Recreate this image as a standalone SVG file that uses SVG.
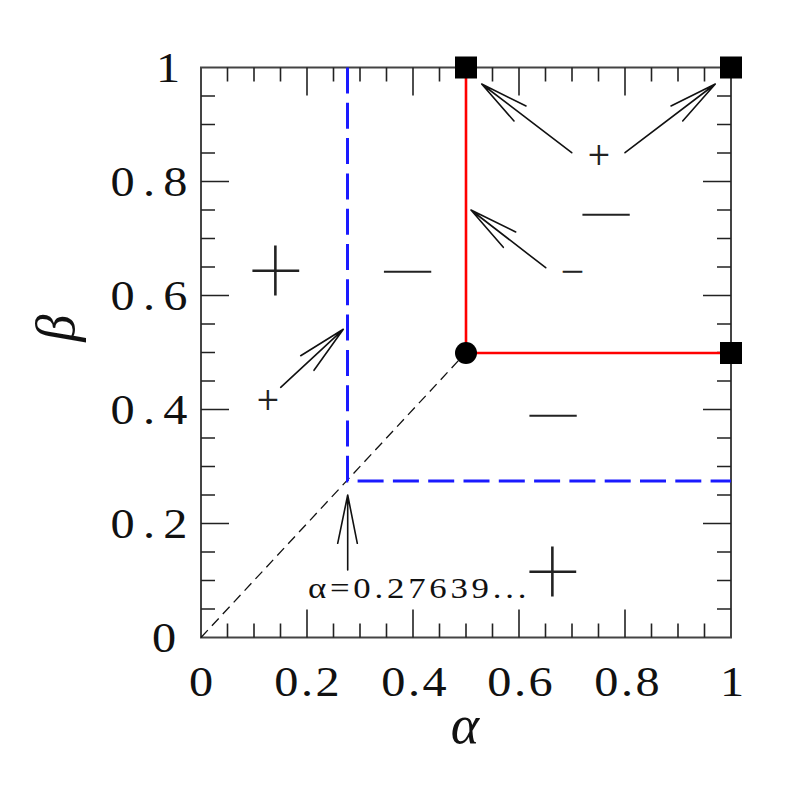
<svg xmlns="http://www.w3.org/2000/svg" width="797" height="797" viewBox="0 0 797 797">
<style>
.frame{fill:none;stroke:#444;stroke-width:2}
.tick{fill:none;stroke:#222;stroke-width:1.6}
.lab{font-family:"Liberation Serif",serif;font-size:42px;fill:#111;text-anchor:middle}
.sym{font-family:Roboto,"Liberation Sans",sans-serif;font-weight:100;fill:#222;text-anchor:middle}
.sm{font-family:Roboto,"Liberation Sans",sans-serif;font-weight:300;font-size:38px;fill:#222;text-anchor:middle}
.mn{font-family:Roboto,"Liberation Sans",sans-serif;font-weight:300;font-size:40px;fill:#222;text-anchor:middle}
.arr{fill:none;stroke:#111;stroke-width:1.6;stroke-linecap:round}
</style>
<rect width="797" height="797" fill="#fff"/>
<g id="axes">
<rect class="frame" x="201" y="67.5" width="530" height="570"/>
<path class="tick" d="M227.5 637.5v-14M254 637.5v-14M280.5 637.5v-14M333.5 637.5v-14M360 637.5v-14M386.5 637.5v-14M439.5 637.5v-14M466 637.5v-14M492.5 637.5v-14M545.5 637.5v-14M572 637.5v-14M598.5 637.5v-14M651.5 637.5v-14M678 637.5v-14M704.5 637.5v-14
M227.5 67.5v14M254 67.5v14M280.5 67.5v14M333.5 67.5v14M360 67.5v14M386.5 67.5v14M439.5 67.5v14M466 67.5v14M492.5 67.5v14M545.5 67.5v14M572 67.5v14M598.5 67.5v14M651.5 67.5v14M678 67.5v14M704.5 67.5v14
M307 637.5v-28M413 637.5v-28M519 637.5v-28M625 637.5v-28M307 67.5v28M413 67.5v28M519 67.5v28M625 67.5v28
M201 609h14M201 580.5h14M201 552h14M201 495h14M201 466.5h14M201 438h14M201 381h14M201 352.5h14M201 324h14M201 267h14M201 238.5h14M201 210h14M201 153h14M201 124.5h14M201 96h14
M731 609h-14M731 580.5h-14M731 552h-14M731 495h-14M731 466.5h-14M731 438h-14M731 381h-14M731 352.5h-14M731 324h-14M731 267h-14M731 238.5h-14M731 210h-14M731 153h-14M731 124.5h-14M731 96h-14
M201 523.5h28M201 409.5h28M201 295.5h28M201 181.5h28M731 523.5h-28M731 409.5h-28M731 295.5h-28M731 181.5h-28"/>
<text class="lab" transform="translate(201 696) scale(1.15 1)">0</text>
<text class="lab" transform="translate(307 696) scale(1.15 1)" textLength="57" lengthAdjust="spacing">0.2</text>
<text class="lab" transform="translate(414 696) scale(1.15 1)" textLength="57" lengthAdjust="spacing">0.4</text>
<text class="lab" transform="translate(520 696) scale(1.15 1)" textLength="57" lengthAdjust="spacing">0.6</text>
<text class="lab" transform="translate(627 696) scale(1.15 1)" textLength="57" lengthAdjust="spacing">0.8</text>
<text class="lab" transform="translate(732 696) scale(1.15 1)">1</text>
<text class="lab" transform="translate(168 81.5) scale(1.15 1)">1</text>
<text class="lab" transform="translate(149 196) scale(1.15 1)" textLength="67" lengthAdjust="spacing">0.8</text>
<text class="lab" transform="translate(149 310) scale(1.15 1)" textLength="67" lengthAdjust="spacing">0.6</text>
<text class="lab" transform="translate(149 424) scale(1.15 1)" textLength="67" lengthAdjust="spacing">0.4</text>
<text class="lab" transform="translate(149 538) scale(1.15 1)" textLength="67" lengthAdjust="spacing">0.2</text>
<text class="lab" transform="translate(164 652) scale(1.15 1)">0</text>
<text x="465" y="743" text-anchor="middle" style="font-family:'Liberation Serif',serif;font-style:italic;font-size:54px;fill:#111">α</text>
<text transform="translate(74 328) rotate(-90)" text-anchor="middle" style="font-family:'Liberation Serif',serif;font-style:italic;font-size:54px;fill:#111">β</text>
</g>
<g id="connectors">
<path id="diag" d="M201 637.5L466 352.5" fill="none" stroke="#111" stroke-width="1.3" stroke-dasharray="10 6"/>
<path id="blue" d="M347.5 67.5V481H731" fill="none" stroke="#1a1aff" stroke-width="3" stroke-dasharray="26 9.3"/>
<path id="red" d="M466 67.5V353H731" fill="none" stroke="#ff0000" stroke-width="2.6"/>
<path class="arr" d="M571.7 152.7L481.7 84M526 106L481.7 84L514 121"/>
<path class="arr" d="M625 152.7L715.3 84M671 106L715.3 84L682.7 121"/>
<path class="arr" d="M545.7 267.7L471 210M515.7 232L471 210L503.3 247.3"/>
<path class="arr" d="M280.7 387.3L343.3 329.3M300.7 355.7L343.3 329.3L314 370.3"/>
<path class="arr" d="M347.7 570V495M337.7 543.3L347.7 495L357.3 543.3"/>
</g>
<g id="points">
<rect x="455" y="56.5" width="22" height="22" fill="#000"/>
<rect x="720" y="56.5" width="22" height="22" fill="#000"/>
<rect x="720" y="342" width="22" height="22" fill="#000"/>
<circle cx="466" cy="353" r="11" fill="#000"/>
</g>
<g id="labels">
<text class="sym" x="276" y="303" style="font-size:96px">+</text>
<text class="sym" x="553" y="604" style="font-size:96px">+</text>
<text class="sm" x="599" y="167.5">+</text>
<text class="sm" x="268" y="413">+</text>
<text class="mn" transform="translate(408 271.7) scale(2.9 1)" x="0" y="14.6">−</text>
<text class="mn" transform="translate(606.7 214.5) scale(2.9 1)" x="0" y="14.6">−</text>
<text class="mn" transform="translate(553.5 415) scale(2.9 1)" x="0" y="14.6">−</text>
<text class="mn" transform="translate(572.7 271.7) scale(1.2 1)" x="0" y="14.6">−</text>
<text transform="translate(308 598) scale(1.2 1)" textLength="182" lengthAdjust="spacing" style="font-family:'Liberation Serif',serif;font-size:29px;fill:#111">α=0.27639...</text>
</g>
</svg>
